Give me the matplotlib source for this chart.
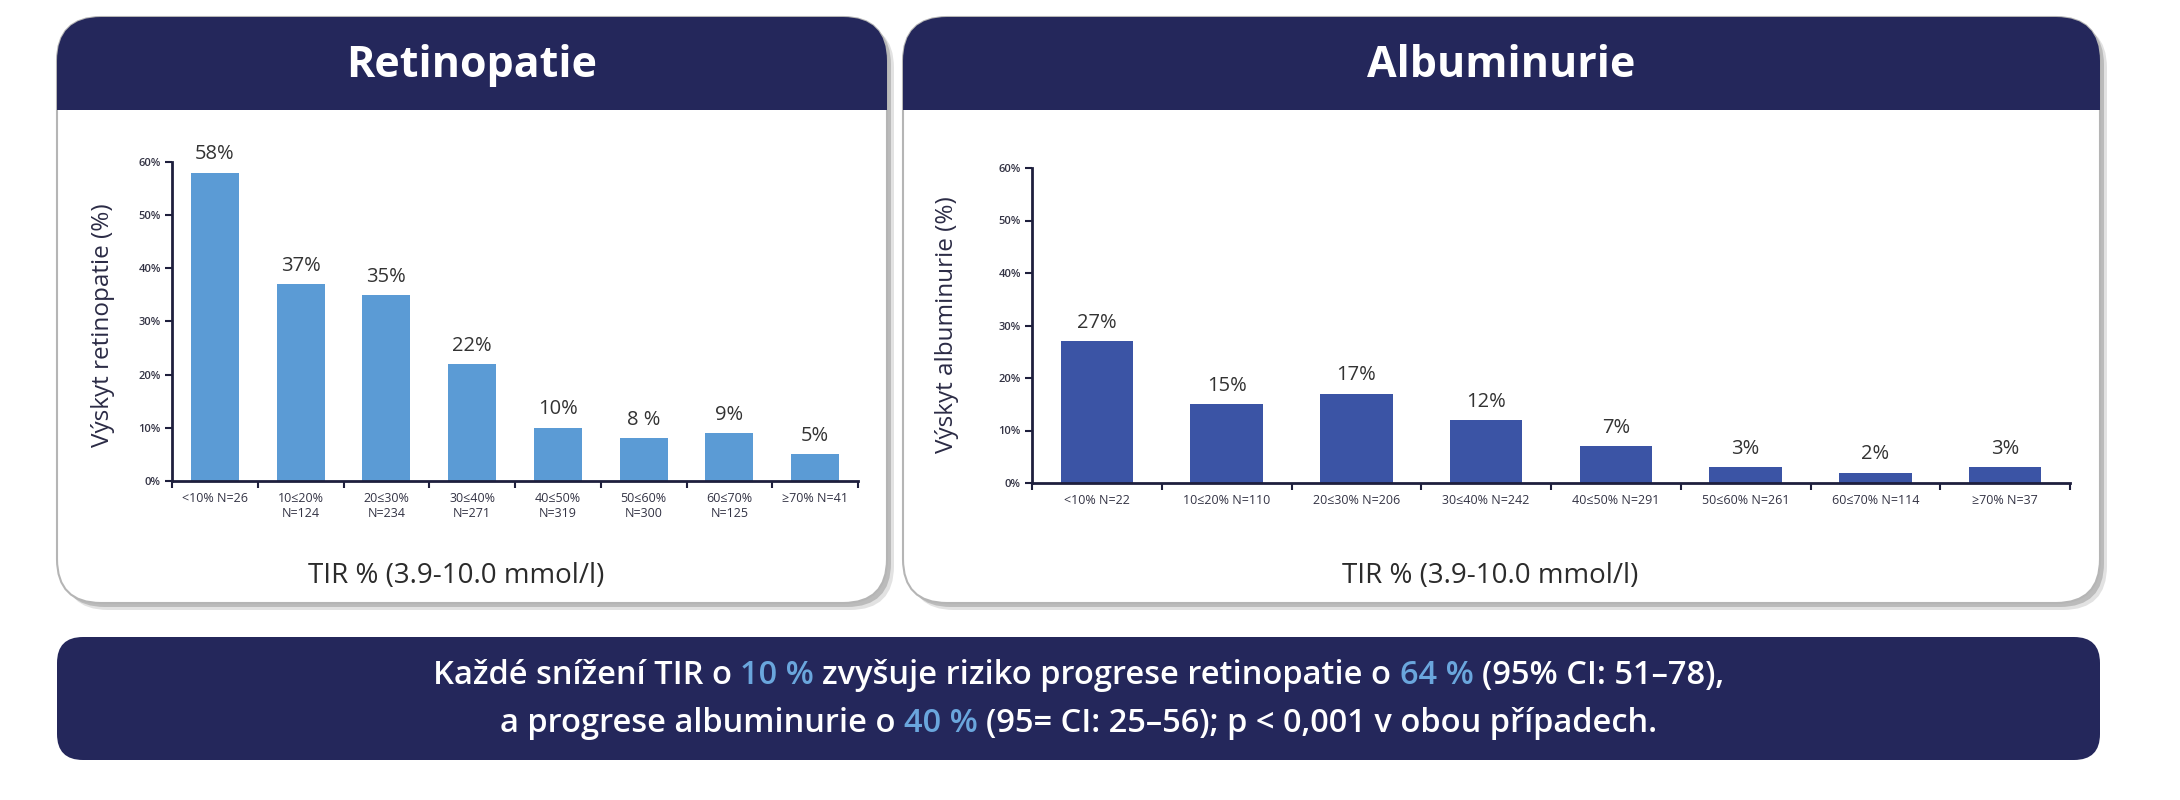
import numpy as np
import matplotlib
matplotlib.use('Agg')
import matplotlib.pyplot as plt
from matplotlib.patches import FancyBboxPatch, Rectangle

plt.rcParams['font.family'] = ['Open Sans', 'DejaVu Sans']

# data
cats_ret = ['<10% N=26', '10≤20%\nN=124', '20≤30%\nN=234', '30≤40%\nN=271',
            '40≤50%\nN=319', '50≤60%\nN=300', '60≤70%\nN=125', '≥70% N=41']
vals_ret = [58, 37, 35, 22, 10, 8, 9, 5]
labs_ret = ['58%', '37%', '35%', '22%', '10%', '8 %', '9%', '5%']

cats_alb = ['<10% N=22', '10≤20% N=110', '20≤30% N=206', '30≤40% N=242',
            '40≤50% N=291', '50≤60% N=261', '60≤70% N=114', '≥70% N=37']
vals_alb = [27, 15, 17, 12, 7, 3, 2, 3]
labs_alb = ['27%', '15%', '17%', '12%', '7%', '3%', '2%', '3%']

yticks = [0, 10, 20, 30, 40, 50, 60]
xlabel = 'TIR % (3.9-10.0 mmol/l)'

banner_lines = [
    [('Každé snížení TIR o', False), ('10 %', True),
     ('zvyšuje riziko progrese retinopatie o', False), ('64 %', True),
     ('(95% CI: 51–78),', False)],
    [('a progrese albuminurie o', False), ('40 %', True),
     ('(95= CI: 25–56); p < 0,001 v obou případech.', False)],
]

NAVY = '#24275b'
LIGHT = '#5b9bd5'
DARK_BAR = '#3b54a5'
AXC = '#1e1f3d'

W, H = 2180, 800
fig = plt.figure(figsize=(W / 100, H / 100), dpi=100)
bg = fig.add_axes([0, 0, 1, 1])
bg.set_xlim(0, W)
bg.set_ylim(H, 0)
bg.axis('off')


def panel(x0, x1, y0, y1, yh, title):
    w, h = x1 - x0, y1 - y0
    style = 'round,pad=0,rounding_size=44'
    for off, a in [(7, 0.25), (4, 0.45)]:
        bg.add_patch(FancyBboxPatch((x0 + off, y0 + off), w, h, boxstyle=style,
                                    fc='#8c8c8c', ec='none', alpha=a))
    bg.add_patch(FancyBboxPatch((x0, y0), w, h, boxstyle=style,
                                fc='white', ec='#b5b5b5', lw=1.5))
    head = FancyBboxPatch((x0, y0), w, h, boxstyle=style, fc=NAVY, ec='none')
    bg.add_patch(head)
    head.set_clip_path(Rectangle((x0 - 5, y0 - 5), w + 10, yh - y0 + 5,
                                 transform=bg.transData))
    bg.text((x0 + x1) / 2, (y0 + yh) / 2 + 2, title, ha='center', va='center',
            color='white', fontsize=31, fontweight='bold')


def bar_chart(x0, x1, y0, y1, cats, vals, labs, color, ylab, ylab_x, xlab_x):
    ax = fig.add_axes([x0 / W, 1 - y1 / H, (x1 - x0) / W, (y1 - y0) / H])
    ax.set_facecolor('none')
    x = np.arange(len(vals))
    bars = ax.bar(x, vals, width=0.56, color=color)
    ax.set_xlim(-0.5, len(vals) - 0.5)
    ax.set_ylim(0, 60)
    ax.set_yticks(yticks)
    ax.set_yticklabels([f'{v}%' for v in yticks], fontsize=8,
                       fontweight='semibold', color='#333344')
    ax.set_xticks(x)
    ax.set_xticklabels(cats, fontsize=9, color='#333344')
    ax.set_xticks(np.arange(-0.5, len(vals)), minor=True)
    ax.tick_params(axis='x', which='major', length=0, pad=8)
    ax.tick_params(axis='x', which='minor', length=5, width=1.5, color=AXC)
    ax.tick_params(axis='y', length=5, width=1.5, color=AXC, pad=3)
    for s in ['top', 'right']:
        ax.spines[s].set_visible(False)
    for s in ['left', 'bottom']:
        ax.spines[s].set_color(AXC)
        ax.spines[s].set_linewidth(2)
    for b, lab in zip(bars, labs):
        ax.annotate(lab, (b.get_x() + b.get_width() / 2, b.get_height()),
                    xytext=(0, 6), textcoords='offset points', ha='center',
                    va='bottom', fontsize=14.5, color='#333333')
    bg.text(ylab_x, 325, ylab, rotation=90, ha='center', va='center',
            fontsize=17.5, color='#2b2b45')
    bg.text(xlab_x, 576, xlabel, ha='center', va='center', fontsize=20,
            color='#2b2b2b')


panel(57, 887, 17, 603, 110, 'Retinopatie')
panel(903, 2100, 17, 603, 110, 'Albuminurie')

bar_chart(172, 858, 162, 481, cats_ret, vals_ret, labs_ret, LIGHT,
          'Výskyt retinopatie (%)', 103, 456)
bar_chart(1032, 2070, 168, 483, cats_alb, vals_alb, labs_alb, DARK_BAR,
          'Výskyt albuminurie (%)', 947, 1490)

# bottom banner
bg.add_patch(FancyBboxPatch((57, 637), 2100 - 57, 123,
                            boxstyle='round,pad=0,rounding_size=26',
                            fc=NAVY, ec='none'))

renderer = fig.canvas.get_renderer()
fs_b = 23.5


def text_w(s):
    t = bg.text(0, 0, s, fontsize=fs_b, fontweight='semibold')
    w = t.get_window_extent(renderer).width
    t.remove()
    return w


space_w = text_w('a a') - text_w('aa')
cx = (57 + 2100) / 2
for line, yy in zip(banner_lines, [675, 724]):
    widths = [text_w(s) for s, _ in line]
    total = sum(widths) + space_w * (len(line) - 1)
    xx = cx - total / 2
    for (s, hl), w in zip(line, widths):
        bg.text(xx, yy, s, ha='left', va='center', fontsize=fs_b,
                fontweight='semibold', color='#6aa6dd' if hl else 'white')
        xx += w + space_w

fig.savefig('out.png', dpi=100)
